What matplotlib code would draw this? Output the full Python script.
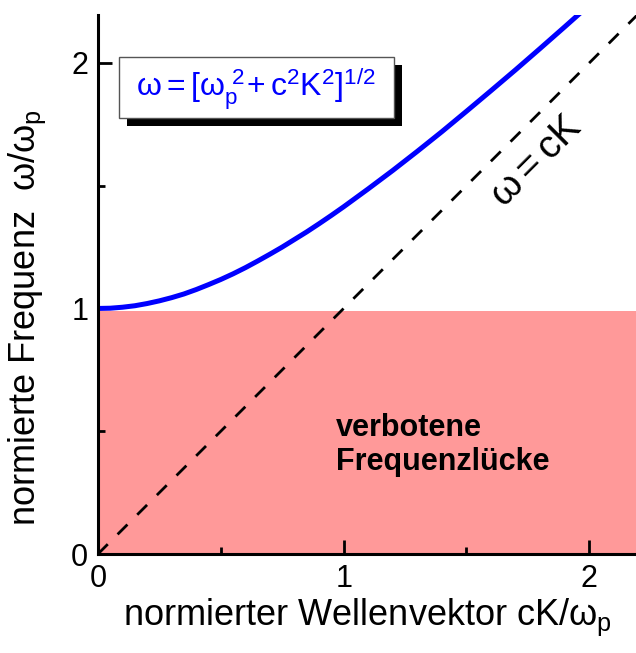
import numpy as np
import matplotlib.pyplot as plt
from matplotlib.patches import Rectangle

plt.rcParams['font.family'] = ['Liberation Sans', 'DejaVu Sans']
plt.rcParams['mathtext.fontset'] = 'custom'
plt.rcParams['mathtext.rm'] = 'Liberation Sans'
plt.rcParams['mathtext.it'] = 'Liberation Sans'
plt.rcParams['mathtext.bf'] = 'Liberation Sans:bold'

k_curve = [0.0, 0.05, 0.1, 0.15, 0.2, 0.25, 0.3, 0.35, 0.4, 0.45, 0.5, 0.55, 0.6,
           0.65, 0.7, 0.75, 0.8, 0.85, 0.9, 0.95, 1.0, 1.1, 1.2, 1.3, 1.4, 1.5,
           1.6, 1.7, 1.8, 1.9, 2.0]
w_curve = [1.000, 1.001, 1.005, 1.011, 1.020, 1.031, 1.044, 1.059, 1.077, 1.097,
           1.118, 1.141, 1.166, 1.193, 1.221, 1.250, 1.281, 1.312, 1.345, 1.379,
           1.414, 1.487, 1.562, 1.640, 1.720, 1.803, 1.887, 1.972, 2.059, 2.147, 2.236]
# Lichtgerade w = cK
k_light = [0.0, 2.2]
w_light = [0.0, 2.2]
# verbotene Zone
gap_x = [0.0, 2.2]
gap_top = 0.99

fig = plt.figure(figsize=(6.36, 6.53), dpi=100)
ax = fig.add_axes([0.154, 0.1516, 0.846, 0.8254])

ax.fill_between(gap_x, 0, gap_top, color='#ff9999', lw=0, zorder=1)
ax.plot(k_light, w_light, color='black', lw=2, dashes=(5, 5), zorder=2)
ax.plot(k_curve, w_curve, color='#0000ff', lw=3.6, zorder=3, solid_capstyle='butt')

ax.set_xlim(0, 2.19)
ax.set_ylim(0, 2.195)
ax.set_xticks([0, 1, 2])
ax.set_yticks([0, 1, 2])
ax.set_xticks([0.5, 1.5], minor=True)
ax.set_yticks([0.5, 1.5], minor=True)
ax.tick_params(which='both', direction='in', width=2, labelsize=22)
ax.tick_params(which='major', length=10)
ax.tick_params(which='minor', length=5)
ax.tick_params(axis='x', pad=7)
ax.tick_params(axis='y', pad=7)
for s in ['top', 'right']:
    ax.spines[s].set_visible(False)
for s in ['left', 'bottom']:
    ax.spines[s].set_linewidth(2.2)
    ax.spines[s].set_zorder(5)

ax.set_xlabel(r'normierter Wellenvektor cK/$\omega_\mathrm{p}$', fontsize=26, labelpad=2)
ax.set_ylabel(r'normierte Frequenz  $\omega/\omega_\mathrm{p}$', fontsize=26)
ax.yaxis.set_label_coords(-0.093, 0.438)

# Formelkasten mit Schatten
ax.add_patch(Rectangle((0.054, 0.794), 0.511, 0.113, transform=ax.transAxes,
                       facecolor='black', edgecolor='none', zorder=6, clip_on=False))
ax.add_patch(Rectangle((0.039, 0.809), 0.511, 0.113, transform=ax.transAxes,
                       facecolor='white', edgecolor='#555555', lw=1, zorder=7, clip_on=False))
ax.text(0.293, 0.862, r'$\omega = [\omega_\mathrm{p}^{\ 2}\!+ \mathrm{c}^2\mathrm{K}^2]^{1/2}$',
        transform=ax.transAxes, color='#0000ff', fontsize=23,
        ha='center', va='center', zorder=8)

ax.text(1.784, 1.597, r'$\omega = \mathrm{cK}$', fontsize=28, rotation=45,
        ha='center', va='center', zorder=4)

ax.text(0.97, 0.444, 'verbotene\nFrequenzlücke', fontsize=22, fontweight='bold',
        ha='left', va='center', linespacing=1.2, zorder=4)

fig.savefig('out.png', dpi=100)
